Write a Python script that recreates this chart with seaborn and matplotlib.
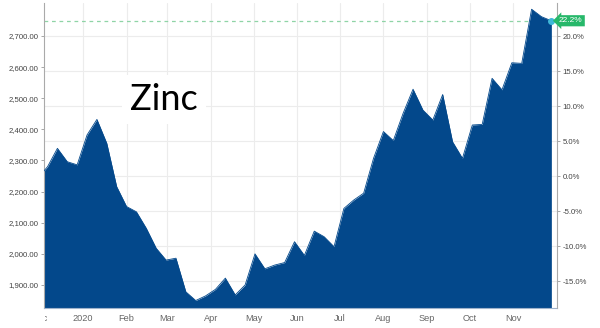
import matplotlib
matplotlib.use("Agg")
import matplotlib.pyplot as plt
from matplotlib.transforms import Bbox
import seaborn as sns
import pandas as pd

# ---- data (weekly zinc price, USD/t) ----
start_date = "2019-12-04"
week_start = "2019-12-07"
prices = [2264,
          2280, 2339, 2296, 2286, 2382, 2432, 2355, 2216, 2152, 2135,
          2082, 2018, 1980, 1986, 1878, 1850, 1865, 1886, 1922, 1868,
          1900, 2000, 1952, 1964, 1972, 2039, 1995, 2073, 2055, 2023,
          2146, 2173, 2195, 2307, 2393, 2364, 2452, 2529, 2462, 2430,
          2512, 2360, 2307, 2414, 2416, 2564, 2527, 2614, 2612, 2786,
          2762, 2749]
base_price = 2249.6
last_pct_label = "22.2%"
left_ticks = [1900, 2000, 2100, 2200, 2300, 2400, 2500, 2600, 2700]
right_ticks = [-15, -10, -5, 0, 5, 10, 15, 20]
month_ticks = ["2019-12-01", "2020-01-01", "2020-02-01", "2020-03-01", "2020-04-01",
               "2020-05-01", "2020-06-01", "2020-07-01", "2020-08-01", "2020-09-01",
               "2020-10-01", "2020-11-01"]
month_labels = ["Dec", "2020", "Feb", "Mar", "Apr", "May", "Jun", "Jul", "Aug",
                "Sep", "Oct", "Nov"]
title_text = "Zinc"

dates = [pd.Timestamp(start_date)] + list(pd.date_range(week_start, periods=len(prices) - 1, freq="7D"))
df = pd.DataFrame({"date": dates, "price": prices})

sns.set_style("white")
plt.rcParams["font.family"] = ["Liberation Sans", "DejaVu Sans"]

fig = plt.figure(figsize=(6.0, 3.28), dpi=100)
ax = fig.add_axes([44 / 600, 20 / 328, (557 - 44) / 600, (308 - 3) / 328])

blue = "#03488b"
grid_c = "#ececec"
ylab_c = "#444444"
xlab_c = "#666666"
ymin, ymax = 1826, 2806
x0, x1 = pd.Timestamp("2019-12-04 12:00"), pd.Timestamp("2020-12-02")

# series
sns.lineplot(data=df, x="date", y="price", ax=ax, color=blue, lw=0.6, zorder=3)
ax.fill_between(df["date"], df["price"], ymin - 10, color=blue, lw=0, zorder=2)
ax.plot(df["date"].iloc[-1], prices[-1], "o", ms=4, color="#40b8d8", zorder=4, clip_on=False)

# gridlines
for p in right_ticks:
    ax.axhline(base_price * (1 + p / 100), color=grid_c, lw=0.8, zorder=0)
for m in month_ticks[1:]:
    ax.axvline(pd.Timestamp(m), color=grid_c, lw=0.8, zorder=0)

# dashed reference line at the latest value
ax.axhline(prices[-1], color="#8fd4a6", lw=0.9, ls=(0, (3, 3)), zorder=1)

ax.set_xlabel("")
ax.set_ylabel("")
ax.set_yticks(left_ticks)
ax.set_yticklabels([f"{v:,.2f}" for v in left_ticks])
ax.set_xticks([pd.Timestamp(m) for m in month_ticks[1:]])
ax.set_xticklabels(month_labels[1:])
ax.tick_params(axis="y", colors="#999999", labelcolor=ylab_c, labelsize=5.6, length=2.5, width=0.6, pad=1.5, left=True)
ax.tick_params(axis="x", length=0, labelcolor=xlab_c, labelsize=6.6, pad=4)

for s in ["top", "right"]:
    ax.spines[s].set_visible(False)
ax.spines["left"].set_color("#aaaaaa")
ax.spines["left"].set_linewidth(0.8)
ax.spines["bottom"].set_color("#9fb3cc")
ax.spines["bottom"].set_linewidth(0.8)

# right percent axis
ax2 = ax.twinx()
ax2.set_ylim((ymin / base_price - 1) * 100, (ymax / base_price - 1) * 100)
ax2.set_yticks(right_ticks)
ax2.set_yticklabels([f"{v:.1f}%" for v in right_ticks])
ax2.tick_params(axis="y", colors="#999999", labelcolor=ylab_c, labelsize=5.6, length=2.5, width=0.6, pad=1.5, right=True)
for s in ["top", "left", "bottom"]:
    ax2.spines[s].set_visible(False)
ax2.spines["right"].set_color("#aaaaaa")
ax2.spines["right"].set_linewidth(0.8)
ax2.grid(False)

ax2.annotate(last_pct_label, xy=(1.0, (prices[-1] / base_price - 1) * 100),
             xycoords=("axes fraction", "data"), xytext=(1.5, 0), textcoords="offset points",
             ha="left", va="center", color="white", fontsize=6, annotation_clip=False,
             bbox=dict(boxstyle="larrow,pad=0.25", fc="#27b86a", ec="none"), zorder=10)

# fix limits last (after twin creation)
ax.set_autoscale_on(False)
ax2.set_autoscale_on(False)
ax.set_ylim(ymin, ymax)
ax.set_xlim(x0, x1)
ax2.set_xlim(x0, x1)

# first month label ("Dec") falls left of the axis and is cut off at the spine
dec_lbl = ax.annotate(month_labels[0], xy=(pd.Timestamp(month_ticks[0]), 0),
                      xycoords=("data", "axes fraction"), xytext=(0, -4), textcoords="offset points",
                      ha="center", va="top", fontsize=6.6, color=xlab_c, annotation_clip=False)
dec_lbl.set_clip_box(Bbox([[45, 0], [600, 328]]))
dec_lbl.set_clip_on(True)

fig.text(130 / 600, (328 - 110) / 328, title_text, fontsize=26, color="black",
         family=["Lato", "DejaVu Sans"], ha="left", va="baseline",
         bbox=dict(fc="white", ec="none", pad=6))

fig.savefig("out.png", dpi=100)
